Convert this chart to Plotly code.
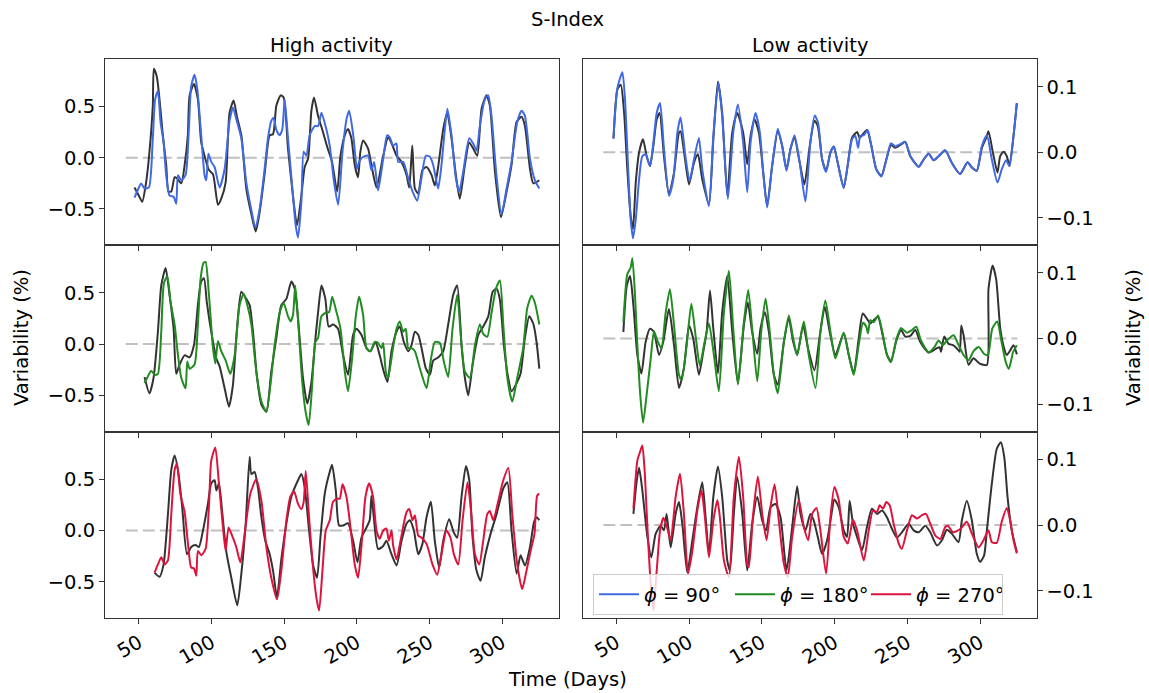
import plotly.graph_objects as go

# ---------------------------------------------------------------------------
# S-index variability (%) versus time (days): reference curve (black) and the
# curve for each inclination phase, for high and low activity.
# Each series is a list of (day, variability) pairs.
# ---------------------------------------------------------------------------

HA_REF_90 = [(47,-0.29),(50,-0.37),(52.3,-0.43),(55,-0.24),(57.3,0.06),(59.6,0.51),(60.3,0.87),(62.4,0.79),(64.2,0.57),(66.5,0.22),(68.8,-0.07),(70.4,-0.33),(72.3,-0.33),(74.6,-0.19),(76.2,-0.20),(79.2,-0.25),(81.5,-0.07),(83.7,0.22),(84.9,0.61),(87.9,0.72),(90.6,0.57),(92.9,0.15),(95.2,0.02),(98.2,-0.12),(101,-0.16),(104.4,-0.46),(106.7,-0.40),(109.7,-0.24),(112.4,0.44),(115.2,0.56),(117.5,0.40),(120.5,0.22),(123.9,-0.30),(127.4,-0.55),(130.4,-0.72),(133.1,-0.53),(136.5,-0.16),(140,0.22),(142.3,0.23),(144.6,0.51),(147.6,0.61),(149.6,0.59),(152.6,0.09),(156,-0.37),(158.8,-0.66),(161.8,-0.37),(164.1,-0.09),(166.4,-0.01),(168.7,0.46),(170.5,0.59),(173.3,0.41),(176.7,0.25),(179.7,0.10),(182.9,-0.04),(186.4,-0.33),(188.7,0.02),(191.7,0.22),(193.9,0.28),(196.2,0.19),(198.5,-0.07),(200.8,-0.19),(202.4,0.06),(204.3,0.17),(207.7,0.09),(210,-0.07),(213.5,-0.29),(218.1,0.02),(221.5,0.20),(224.5,0.12),(227.3,0.02),(230.7,-0.04),(234.2,-0.17),(236,-0.29),(238.1,0.12),(239.9,-0.30),(242.2,-0.35),(245.1,-0.12),(247.9,-0.09),(251.4,-0.17),(253.6,-0.27),(255.9,-0.09),(259.4,0.28),(262.1,0.44),(265.1,0.19),(268.1,-0.17),(270.8,-0.40),(274.3,-0.07),(277.3,0.15),(280,0.09),(282.8,0.02),(285.8,0.48),(289.2,0.61),(291.5,0.51),(295,-0.14),(299.1,-0.58),(303,-0.33),(306.4,-0.07),(309.9,0.35),(313.3,0.40),(315.6,0.31),(319.1,-0.11),(321.4,-0.25),(325.5,-0.22)]

HA_PHI_90 = [(47,-0.39),(50,-0.29),(51.6,-0.25),(53.9,-0.30),(56.9,-0.29),(59.6,0.19),(61.2,0.57),(63.1,0.65),(64.9,0.35),(67,0.15),(68.8,-0.17),(71.1,-0.37),(73.9,-0.38),(75.7,-0.45),(76.9,-0.17),(79.2,-0.22),(82.1,-0.17),(84.4,0.28),(86,0.70),(88.3,0.81),(90.2,0.67),(92.9,0.22),(95.2,-0.17),(96.4,-0.22),(97.8,0.04),(99.8,-0.04),(102.1,-0.09),(105.5,-0.29),(109,-0.11),(112.4,0.36),(114.7,0.49),(117,0.38),(120.5,0.19),(123.9,-0.24),(127.4,-0.51),(130.1,-0.68),(133.1,-0.50),(136.5,-0.11),(138.8,0.19),(141.1,0.36),(142.7,0.39),(144.6,0.27),(146.9,0.22),(148.7,0.28),(150.3,0.57),(152.6,0.19),(155.6,-0.30),(157.9,-0.66),(159.5,-0.78),(161.8,-0.43),(163.4,0.06),(165.3,0.02),(167.5,0.22),(171,0.31),(173.3,0.31),(175.6,0.44),(178.6,0.30),(181.3,0.12),(184.3,-0.24),(187.1,-0.46),(190.1,0.06),(192.9,0.38),(194.7,0.46),(197.5,0.22),(200.1,-0.11),(201.5,-0.04),(204.3,0.01),(207.7,0.02),(210,-0.12),(211.9,-0.04),(214.6,-0.32),(218.1,-0.01),(220.8,0.22),(222.6,0.20),(224.9,0.12),(227.2,0.14),(228.4,-0.04),(231.8,-0.04),(235.3,-0.20),(238.3,-0.33),(241.4,-0.42),(244.4,-0.20),(247.4,0.02),(250.2,0.01),(252.5,-0.07),(255.9,-0.30),(258.2,-0.07),(260.5,0.28),(262.3,0.48),(265.1,0.22),(268.1,-0.20),(270.4,-0.33),(273.1,-0.14),(277.3,0.19),(280,0.14),(282.3,0.07),(284.6,0.31),(288,0.57),(290.3,0.61),(292.6,0.41),(296,-0.17),(299.5,-0.55),(303,-0.30),(306.4,-0.04),(310.3,0.35),(313.3,0.46),(315.6,0.41),(319.1,-0.01),(322.5,-0.22),(325.5,-0.30)]

HA_REF_180 = [(53.9,-0.32),(57.3,-0.48),(60.1,-0.33),(63.1,0.12),(65.4,0.57),(68.4,0.74),(71.1,0.48),(73.9,0.15),(75.7,-0.29),(78,-0.20),(81.5,-0.11),(84.9,-0.13),(87.9,-0.01),(90.6,0.38),(92.9,0.61),(94.8,0.64),(96.8,0.40),(99.8,0.12),(103.3,-0.14),(105.6,-0.22),(109,-0.43),(112,-0.61),(114.7,-0.40),(117.5,0.15),(120.5,0.51),(123.9,0.44),(126.2,0.38),(128.5,0.12),(131.3,-0.33),(134.3,-0.59),(137.7,-0.66),(141.1,-0.27),(144.6,0.06),(148,0.38),(151.5,0.44),(154.9,0.61),(157.2,0.54),(159.5,0.25),(162.9,-0.33),(165.9,-0.58),(168.7,-0.37),(171.7,0.09),(173.3,0.31),(175.6,0.57),(178.3,0.44),(180.6,0.17),(183.6,0.19),(187,0.15),(190.5,-0.11),(193.9,-0.30),(197.4,0.09),(199.7,0.15),(203.1,0.09),(206.6,-0.04),(209.3,-0.07),(212.8,0.02),(215.7,-0.11),(218.5,-0.27),(221,-0.37),(223.8,-0.07),(227.3,0.12),(229.5,0.17),(232.3,0.02),(235.3,-0.07),(237.6,-0.01),(239.9,0.12),(242.2,0.09),(244.5,-0.04),(247.5,-0.24),(250.2,-0.30),(252.5,-0.16),(255.9,-0.13),(259.4,-0.07),(262.8,0.19),(266.3,0.48),(269,0.57),(272,-0.01),(274.3,-0.33),(276.6,-0.50),(279.6,-0.20),(283.5,0.09),(286.9,0.17),(290.4,0.27),(293.4,0.51),(296.1,0.54),(298.4,0.43),(301.1,-0.01),(304.1,-0.33),(306.4,-0.46),(309.9,-0.38),(312.6,-0.29),(315.6,0.06),(318.6,0.27),(321.3,0.20),(323.6,0.02),(325.5,-0.24)]

HA_PHI_180 = [(53.9,-0.38),(55.7,-0.33),(58.5,-0.26),(60.8,-0.30),(63.1,-0.29),(65.4,0.12),(67.2,0.59),(69.5,0.66),(71.8,0.41),(74.6,0.19),(76.9,-0.11),(79.2,-0.33),(82.1,-0.43),(83.3,-0.17),(84.9,-0.24),(88.3,-0.20),(90.6,0.19),(92.5,0.64),(94.5,0.79),(95.9,0.80),(98.2,0.48),(101,-0.04),(102.6,-0.19),(104.4,0.03),(106.7,-0.07),(109.7,-0.16),(112.9,-0.29),(115.9,-0.11),(119.3,0.38),(122.1,0.49),(124.6,0.38),(127.4,0.19),(130.8,-0.27),(134.3,-0.56),(137.7,-0.66),(140.5,-0.40),(143.4,-0.01),(146.9,0.31),(149.6,0.40),(152.6,0.27),(154.4,0.22),(156,0.28),(157.6,0.57),(159.9,0.15),(162.4,-0.37),(164.7,-0.66),(166.8,-0.79),(169.1,-0.43),(171.4,0.02),(173.3,0.06),(175.6,0.27),(179,0.31),(180.9,0.31),(183,0.46),(186,0.31),(188.7,0.15),(191.7,-0.27),(193.9,-0.46),(196.7,-0.14),(199.3,0.28),(201.5,0.46),(204.3,0.28),(206.6,-0.04),(209.3,-0.07),(212.3,0.02),(214.6,0.01),(216.9,-0.04),(218.1,0.01),(219.9,-0.27),(221.5,-0.33),(224.5,-0.07),(227.3,0.15),(229.5,0.22),(231.8,0.12),(233.6,0.15),(235.3,-0.04),(237.6,-0.04),(239.9,-0.07),(243.4,-0.24),(247.9,-0.43),(250.7,-0.17),(253.6,0.02),(257.1,0.01),(259.8,-0.17),(262.8,-0.32),(265.8,0.15),(269,0.48),(272,-0.01),(274.3,-0.27),(277.8,-0.33),(281.2,-0.01),(284.6,0.19),(286.9,0.10),(289.7,0.07),(292.7,0.31),(295.7,0.54),(298.4,0.62),(300.7,0.19),(303.5,-0.33),(306.9,-0.56),(310.3,-0.33),(314.4,-0.04),(317.2,0.35),(320.2,0.47),(322.5,0.40),(325.5,0.19)]

HA_REF_270 = [(60.8,-0.41),(64.2,-0.45),(67,-0.33),(70,0.16),(72.3,0.59),(74.6,0.73),(77.3,0.55),(79.8,0.23),(83.1,-0.23),(86,-0.16),(89,-0.14),(91.3,-0.16),(94.1,0.00),(97.5,0.26),(99.8,0.46),(102.1,0.49),(103.3,0.39),(105.1,0.46),(107.2,0.20),(110.1,-0.20),(113.6,-0.46),(117.7,-0.73),(120.5,-0.42),(123.5,0.07),(126.2,0.72),(127.4,0.55),(129.6,0.57),(131.9,0.42),(134.3,0.13),(137,-0.10),(140,-0.23),(142.3,-0.39),(145,-0.65),(148,-0.28),(151.5,0.07),(154.9,0.33),(159.5,0.49),(161.8,0.55),(164.1,0.42),(167.1,0.00),(169.8,-0.33),(172.6,-0.46),(174.9,-0.07),(177.9,0.36),(180.9,0.55),(182.9,0.64),(185.5,0.39),(187.7,0.05),(190.5,0.05),(193.9,0.07),(197.4,-0.10),(200.4,-0.31),(203.1,-0.07),(206.6,0.03),(208.8,0.10),(210,0.34),(211.6,0.13),(214.6,-0.18),(218.1,-0.15),(220.3,-0.10),(223.8,-0.23),(227.3,-0.34),(230.7,-0.10),(234.2,0.07),(236.5,0.10),(239.2,0.00),(242.2,-0.23),(245.1,-0.13),(247.9,0.13),(250.9,0.28),(253.6,-0.10),(256.6,-0.36),(259.4,-0.10),(263.5,0.11),(266.7,-0.02),(269,-0.07),(272,0.33),(275,0.63),(277.3,0.49),(279.6,-0.07),(282.3,-0.39),(285.1,-0.49),(288,-0.26),(292,-0.03),(296.1,0.16),(298.4,0.29),(300.7,0.41),(303.5,0.47),(306.4,0.00),(309.9,-0.42),(312.6,-0.24),(315.6,-0.34),(319.1,-0.16),(321.8,0.08),(323.6,0.13),(325.5,0.10)]

HA_PHI_270 = [(60.8,-0.41),(63.1,-0.33),(65.4,-0.26),(67.7,-0.33),(70,-0.29),(72.3,0.16),(74.6,0.59),(76.2,0.65),(78.5,0.36),(81.5,0.18),(83.8,-0.13),(86,-0.36),(87.9,-0.37),(89.5,-0.44),(90.6,-0.20),(93,-0.24),(95.9,-0.18),(98.2,0.23),(99.8,0.68),(102.6,0.81),(104.9,0.49),(107.4,0.10),(109.7,-0.20),(111.7,0.03),(114.7,-0.07),(117,-0.16),(119.8,-0.31),(122.8,-0.03),(126.7,0.36),(130.8,0.50),(134.3,0.29),(137.7,-0.16),(141.1,-0.46),(145,-0.67),(148,-0.39),(151.5,0.10),(154.2,0.33),(156.8,0.38),(159.5,0.26),(161.8,0.21),(163.4,0.28),(164.8,0.58),(167.1,0.13),(169.8,-0.36),(172.1,-0.65),(174,-0.78),(176.3,-0.39),(178.6,0.00),(181.3,0.10),(183.6,0.28),(186.4,0.31),(188.2,0.31),(190.1,0.45),(192.8,0.33),(195.6,0.03),(198.5,-0.33),(200.8,-0.46),(203.1,-0.16),(205.9,0.33),(208.4,0.46),(211.1,0.33),(213.5,0.00),(215.7,-0.08),(218.1,0.00),(220.3,0.02),(222,-0.10),(223.8,0.00),(225,-0.15),(227.3,-0.28),(229.6,-0.13),(232.3,0.07),(234.2,0.18),(236,0.21),(238.3,0.10),(239.9,0.15),(242.2,-0.05),(244.5,-0.07),(247.9,-0.13),(252,-0.33),(255.2,-0.43),(258.2,-0.23),(261.6,0.00),(264.4,-0.07),(266.7,-0.23),(269.7,-0.33),(272.7,0.10),(276.1,0.47),(278.9,0.13),(281.2,-0.23),(284.2,-0.33),(286.9,-0.10),(289.7,0.16),(291.5,0.19),(293.8,0.10),(297.3,0.29),(300.7,0.49),(304.2,0.61),(306.9,0.16),(310.3,-0.33),(313.7,-0.57),(316.7,-0.39),(319.5,-0.20),(322.2,-0.03),(324,0.34),(325.5,0.36)]

LA_REF_90 = [(48,0.021),(50.7,0.096),(53,0.103),(55.3,0.060),(57.5,-0.026),(59.8,-0.097),(61.4,-0.117),(63.3,-0.046),(65.6,0.000),(68.3,0.020),(70.8,-0.006),(73.1,-0.021),(75.4,0.010),(77.7,0.050),(79.7,0.060),(82.7,-0.006),(86.1,-0.064),(89.6,-0.031),(93,0.030),(94.1,0.032),(96.9,-0.006),(99.9,-0.049),(103.3,-0.016),(106,-0.003),(109,-0.041),(113.6,-0.079),(116.6,0.020),(119.8,0.108),(122.7,0.060),(126.2,-0.066),(129.6,0.030),(133,0.060),(137.1,0.030),(139.9,-0.018),(142.2,0.025),(144.9,0.050),(147.9,0.030),(150.9,-0.031),(153.6,-0.082),(157,-0.021),(160.9,0.032),(163.9,0.010),(166.9,-0.026),(169.6,0.005),(172.4,0.022),(176,-0.016),(179.2,-0.049),(182.9,0.010),(186.1,0.048),(188.4,0.040),(191.4,-0.011),(194.1,-0.028),(197.1,0.000),(199.4,0.009),(202.1,-0.016),(206.2,-0.054),(209.2,-0.016),(211.9,0.022),(215.4,0.031),(217.2,0.022),(218.8,0.026),(222.2,0.034),(225.2,0.010),(228.6,-0.026),(232.1,-0.036),(235.5,-0.011),(238.7,0.011),(241.7,0.007),(245.6,0.012),(248.5,0.016),(252,-0.006),(257.7,-0.022),(261.1,-0.011),(264.6,-0.002),(268,-0.012),(271.4,-0.006),(276,0.003),(280.5,-0.016),(286.2,-0.033),(291.3,-0.015),(294.3,-0.023),(297.7,-0.028),(301.2,0.007),(304.1,0.022),(305.7,0.032),(308.7,0.000),(311.9,-0.031),(313.7,-0.006),(316,0.001),(318.3,-0.006),(320.1,-0.021),(322.9,0.025),(325.2,0.075)]

LA_PHI_90 = [(48,0.021),(50.7,0.098),(54.1,0.122),(55.9,0.081),(58.2,-0.031),(59.8,-0.102),(61.4,-0.131),(63.3,-0.102),(65.6,-0.041),(67.8,-0.006),(70.1,-0.003),(73.1,-0.021),(75.4,0.015),(77.7,0.060),(80,0.075),(82.7,0.005),(86.1,-0.066),(89.1,-0.041),(91.9,0.030),(94.1,0.053),(97.1,0.000),(100.3,-0.044),(103.3,-0.011),(106.7,0.022),(109,-0.026),(113.6,-0.082),(116.6,0.025),(120.1,0.106),(122.7,0.055),(126.6,-0.071),(130.3,0.030),(133.5,0.073),(137.1,0.015),(139.9,-0.061),(142.2,0.015),(145.6,0.060),(148.6,0.030),(150.9,-0.031),(153.6,-0.084),(157,-0.021),(160.9,0.036),(163.9,0.010),(166.9,-0.028),(169.6,0.005),(172.4,0.026),(176,-0.016),(179.9,-0.075),(183.3,0.015),(186.3,0.056),(188.6,0.045),(191.4,-0.011),(194.1,-0.030),(197.1,0.000),(199.4,0.009),(202.1,-0.016),(206.2,-0.054),(209.2,-0.016),(211.9,0.020),(214.2,0.025),(216.1,0.007),(217.6,0.025),(220,0.026),(222.7,0.034),(225.2,0.010),(228.6,-0.026),(232.1,-0.037),(235.5,-0.011),(238.7,0.014),(241.7,0.009),(245.6,0.013),(248.5,0.016),(252,-0.006),(257.7,-0.022),(261.1,-0.011),(264.6,-0.002),(268,-0.012),(271.4,-0.006),(276,0.003),(280.5,-0.016),(286.2,-0.033),(291.3,-0.015),(294.3,-0.023),(297.7,-0.028),(301.2,0.010),(304.6,0.026),(308,-0.011),(311.9,-0.046),(314.8,-0.026),(317.8,-0.012),(320.1,-0.021),(322.9,0.025),(325.2,0.075)]

LA_REF_180 = [(54.8,0.010),(57.1,0.080),(59.4,0.095),(61.7,0.050),(64.4,-0.025),(67.2,-0.053),(70.1,-0.005),(73.1,0.015),(75.8,0.010),(79.3,-0.025),(82.2,-0.005),(86.1,0.045),(89.6,-0.010),(93,-0.075),(96.4,-0.045),(99.9,0.020),(102.8,0.000),(106.7,-0.055),(109.7,-0.020),(112,0.010),(114.3,0.073),(116.6,0.015),(119.8,-0.053),(122.7,0.040),(126.2,0.095),(129.6,0.010),(133.5,-0.068),(137.6,0.020),(140.3,0.055),(143.3,0.010),(146.8,-0.023),(149,0.015),(152,0.040),(154.8,0.010),(158.2,-0.055),(160.9,-0.070),(165.1,-0.005),(168.5,0.030),(171.5,-0.005),(174.2,-0.025),(178.3,0.020),(181.7,-0.015),(186.1,-0.048),(189.8,0.005),(193.2,0.048),(196.6,0.010),(200.5,-0.025),(206.2,0.008),(209.7,-0.025),(213.1,-0.053),(216.5,0.000),(219.3,0.038),(222.2,0.030),(224.5,0.023),(226.8,0.028),(229.8,0.033),(232.5,0.010),(236,-0.025),(238.7,-0.034),(242.4,-0.003),(245.6,0.013),(248.5,0.003),(252,0.004),(255.4,0.013),(258.8,-0.005),(264.6,-0.021),(269.2,-0.016),(272.1,-0.013),(273.1,-0.020),(275.3,0.003),(278.3,-0.008),(281.3,-0.010),(284,-0.015),(285.9,-0.020),(287,0.020),(288.6,0.005),(292,-0.040),(295.4,-0.030),(299.6,-0.038),(304.6,-0.040),(305.7,0.075),(308.5,0.111),(311,0.090),(313.8,0.015),(316.5,-0.015),(318.3,-0.025),(320.6,-0.018),(322.9,-0.010),(325.2,-0.024)]

LA_PHI_180 = [(54.8,0.025),(57.5,0.098),(59.8,0.108),(61,0.122),(62.8,0.065),(64.4,-0.010),(66.2,-0.080),(68.3,-0.128),(70.8,-0.085),(73.6,-0.030),(75.8,0.011),(78.1,-0.003),(80.9,-0.015),(83.9,0.040),(86.8,0.075),(89.6,0.020),(93,-0.055),(94.8,-0.063),(98.3,-0.010),(101.5,0.053),(104.4,0.005),(107.3,-0.041),(110.6,-0.005),(113.6,0.023),(117,-0.025),(120.4,-0.080),(123.9,0.040),(127.3,0.103),(130.3,0.015),(133.5,-0.070),(137.6,0.025),(140.6,0.074),(143.3,0.015),(146.8,-0.065),(149.5,0.010),(152.5,0.061),(155.4,0.010),(158.2,-0.055),(160.9,-0.083),(165.1,-0.005),(168.5,0.035),(171.5,0.000),(174.2,-0.025),(178.8,0.026),(182.2,-0.025),(186.8,-0.075),(190.2,0.010),(193.6,0.058),(197.1,0.010),(200.5,-0.030),(206.2,0.009),(209.7,-0.025),(213.1,-0.055),(216.5,-0.010),(219.5,0.024),(221.7,0.018),(222.9,0.008),(224.5,0.028),(226.8,0.025),(229.8,0.035),(232.5,0.013),(236,-0.025),(238.7,-0.036),(242.4,-0.001),(245.6,0.016),(249.7,0.009),(253.1,0.013),(256.1,0.018),(259.3,-0.003),(264.6,-0.021),(268.5,-0.013),(271.4,-0.003),(274.4,-0.010),(277.1,-0.003),(281.7,0.005),(285.2,-0.010),(288.6,-0.025),(292,-0.033),(295.4,-0.019),(299.1,-0.013),(302.5,-0.023),(305.3,-0.025),(308.3,0.015),(311.7,0.026),(314.5,-0.003),(317.5,-0.035),(319.7,-0.046),(322.7,-0.020),(325.2,-0.010)]

LA_REF_270 = [(61.7,0.017),(64,0.068),(65.6,0.087),(67.8,0.053),(71.3,-0.018),(74,-0.049),(77,-0.013),(80.4,-0.001),(82.7,-0.008),(84.5,0.017),(87.3,-0.034),(90.7,0.017),(93,0.035),(95.3,0.002),(98.7,-0.072),(102.2,-0.023),(105.6,0.027),(109,0.065),(111.3,0.012),(113.6,-0.044),(116.6,0.043),(119.8,0.089),(122.7,0.043),(126.2,-0.054),(128,-0.069),(130.7,0.017),(133,0.073),(136.5,0.017),(139.9,-0.069),(143.3,0.002),(146.8,0.043),(150.2,0.007),(152.9,-0.008),(155.9,0.027),(159.3,0.032),(162.8,0.012),(166.9,-0.069),(170.8,-0.003),(174.2,0.059),(176.5,0.017),(179.9,-0.008),(183.3,0.017),(185.6,0.007),(188.4,-0.018),(191.4,-0.044),(194.8,-0.023),(197.5,0.012),(199.8,0.039),(202.8,0.027),(206.2,-0.008),(208.5,-0.018),(210.3,0.037),(212.6,0.002),(215.4,-0.018),(218.8,-0.038),(222.2,-0.003),(225.6,0.025),(229.1,0.017),(232.5,0.022),(235.9,0.012),(239.4,-0.006),(242.8,-0.019),(246.2,-0.011),(250.8,0.002),(254.3,-0.008),(257.7,-0.011),(262.3,-0.001),(265.7,-0.011),(270.3,-0.031),(273.7,-0.023),(277.1,-0.007),(280.5,-0.013),(285.1,-0.026),(287.4,0.007),(290.8,0.037),(294.3,0.007),(297.7,-0.044),(300,-0.056),(302.7,-0.046),(304.6,-0.008),(308,0.063),(311.4,0.116),(314.2,0.126),(316.5,0.104),(318.8,0.043),(321.7,-0.008),(325.2,-0.041)]

LA_PHI_270 = [(61.7,0.025),(64.4,0.098),(66.2,0.111),(67.8,0.121),(69.4,0.083),(71.3,-0.003),(73.1,-0.074),(75.4,-0.130),(77.7,-0.069),(80,-0.008),(82.3,0.011),(84.5,-0.001),(87.3,-0.023),(90.7,0.043),(93.7,0.078),(96.4,0.017),(99.2,-0.074),(102.2,-0.039),(105.6,0.022),(108.4,0.053),(110.6,0.017),(113.6,-0.049),(116.6,0.007),(119.4,0.038),(121.1,0.012),(123.9,-0.054),(127.3,-0.079),(130.7,0.043),(134.2,0.104),(137.1,0.043),(139.9,-0.059),(141,-0.064),(144,0.017),(147.2,0.074),(150.2,0.017),(153.2,-0.023),(155.9,0.027),(158.7,0.062),(161.6,0.007),(165.1,-0.059),(167.8,-0.079),(170.8,-0.018),(175.4,0.038),(178.8,-0.003),(181.8,-0.023),(184.5,0.017),(187.5,0.026),(190.2,-0.008),(194.1,-0.074),(197.1,0.012),(199.8,0.058),(202.8,0.038),(206.2,-0.018),(209,-0.028),(212.6,0.008),(215.4,-0.008),(220,-0.054),(223.4,-0.008),(226.3,0.022),(229.1,0.020),(230.9,0.030),(233.2,0.025),(235.5,0.035),(237.8,0.030),(240.5,0.002),(244,-0.028),(246.2,-0.036),(249.7,-0.008),(253.1,0.015),(256.6,0.010),(260,0.015),(262.7,0.017),(265.7,0.002),(269.2,-0.016),(272.6,-0.021),(276,-0.003),(277.8,-0.001),(281.3,-0.011),(286.3,-0.006),(290.8,0.005),(294.3,-0.013),(298.9,-0.034),(302.3,-0.023),(305.7,-0.008),(308,-0.026),(311.4,-0.027),(314.8,0.005),(318.3,0.026),(320.6,0.007),(322.9,-0.023),(325.2,-0.043)]

# zero reference line spans the full time window
ZERO_LINE = [(41, 0.0), (325.5, 0.0)]

PHASES = ["90", "180", "270"]
PHASE_COLORS = {"90": "#4169E1", "180": "#228B22", "270": "#DC143C"}
HIGH = {"90": (HA_REF_90, HA_PHI_90), "180": (HA_REF_180, HA_PHI_180), "270": (HA_REF_270, HA_PHI_270)}
LOW = {"90": (LA_REF_90, LA_PHI_90), "180": (LA_REF_180, LA_PHI_180), "270": (LA_REF_270, LA_PHI_270)}

X_TICKS = [50, 100, 150, 200, 250, 300]
HIGH_Y_TICKS = [-0.5, 0.0, 0.5]
LOW_Y_TICKS = [-0.1, 0.0, 0.1]

W, H = 1149, 693
FONT = "DejaVu Sans"
FS = 19.5
REF_COLOR = "#333333"

# panel frames in pixels
COLS_PX = [(105, 558.5), (582.5, 1036.5)]
ROWS_PX = [(59, 245), (245, 431.5), (431.5, 618)]


def unzip(pairs):
    return [p[0] for p in pairs], [p[1] for p in pairs]


fig = go.Figure()
layout = {}

for r, phase in enumerate(PHASES):
    for c, group in enumerate([HIGH, LOW]):
        k = r * 2 + c + 1
        xa, ya = f"x{k}", f"y{k}"
        ref, cur = group[phase]

        zx, zy = unzip(ZERO_LINE)
        fig.add_trace(go.Scatter(x=zx, y=zy, xaxis=xa, yaxis=ya, mode="lines",
                                 line=dict(color="#c0c0c0", width=2, dash="12px,5px"),
                                 showlegend=False, hoverinfo="skip"))
        rx, ry = unzip(ref)
        fig.add_trace(go.Scatter(x=rx, y=ry, xaxis=xa, yaxis=ya, mode="lines",
                                 line=dict(color=REF_COLOR, width=2, shape="spline", smoothing=0.6),
                                 showlegend=False))
        cx, cy = unzip(cur)
        fig.add_trace(go.Scatter(x=cx, y=cy, xaxis=xa, yaxis=ya, mode="lines",
                                 name=f"<i>ϕ</i> = {phase}°",
                                 line=dict(color=PHASE_COLORS[phase], width=2, shape="spline", smoothing=0.6),
                                 showlegend=(c == 0)))

        x0, x1 = COLS_PX[c]
        y0, y1 = ROWS_PX[r]
        bottom = (r == 2)
        layout[f"xaxis{k}"] = dict(
            domain=[x0 / W, x1 / W], anchor=ya, range=[26.7, 338.7],
            tickvals=X_TICKS, showticklabels=bottom, tickangle=-30,
            ticks="outside", ticklen=5, tickwidth=1, tickcolor="#333",
            showline=True, mirror=True, linecolor="#333", linewidth=1,
            showgrid=False, zeroline=False,
            tickfont=dict(family=FONT, size=FS, color="black"),
        )
        if c == 0:
            yr, yt = [-0.852, 0.965], HIGH_Y_TICKS
        else:
            yr, yt = [-0.1412, 0.1422], LOW_Y_TICKS
        layout[f"yaxis{k}"] = dict(
            domain=[1 - y1 / H, 1 - y0 / H], anchor=xa, range=yr,
            tickvals=yt, tickformat=".1f", side="left" if c == 0 else "right",
            ticks="outside", ticklen=5, tickwidth=1, tickcolor="#333",
            showline=True, mirror=True, linecolor="#333", linewidth=1,
            showgrid=False, zeroline=False,
            tickfont=dict(family=FONT, size=FS, color="black"),
        )

txt = dict(family=FONT, size=FS, color="black")
annotations = [
    dict(text="S-Index", x=567 / W, y=1 - 19 / H, xref="paper", yref="paper",
         showarrow=False, font=txt, xanchor="center", yanchor="middle"),
    dict(text="High activity", x=(COLS_PX[0][0] + COLS_PX[0][1]) / 2 / W, y=1 - 45 / H,
         xref="paper", yref="paper", showarrow=False, font=txt, xanchor="center", yanchor="middle"),
    dict(text="Low activity", x=(COLS_PX[1][0] + COLS_PX[1][1]) / 2 / W, y=1 - 45 / H,
         xref="paper", yref="paper", showarrow=False, font=txt, xanchor="center", yanchor="middle"),
    dict(text="Variability (%)", x=21 / W, y=1 - 338 / H, xref="paper", yref="paper",
         showarrow=False, font=txt, textangle=-90, xanchor="center", yanchor="middle"),
    dict(text="Variability (%)", x=1133 / W, y=1 - 338 / H, xref="paper", yref="paper",
         showarrow=False, font=txt, textangle=-90, xanchor="center", yanchor="middle"),
    dict(text="Time (Days)", x=567 / W, y=1 - 679 / H, xref="paper", yref="paper",
         showarrow=False, font=txt, xanchor="center", yanchor="middle"),
]

fig.update_layout(
    width=W, height=H, autosize=False,
    margin=dict(l=0, r=0, t=0, b=0),
    paper_bgcolor="white", plot_bgcolor="white",
    font=dict(family=FONT, size=FS, color="black"),
    annotations=annotations,
    legend=dict(x=593 / W, y=1 - 574 / H, xanchor="left", yanchor="top",
                orientation="h", bgcolor="rgba(255,255,255,0.8)",
                bordercolor="#cccccc", borderwidth=1, itemwidth=40,
                entrywidth=81, font=txt, tracegroupgap=0),
    **layout,
)

fig.write_html("out.html")
